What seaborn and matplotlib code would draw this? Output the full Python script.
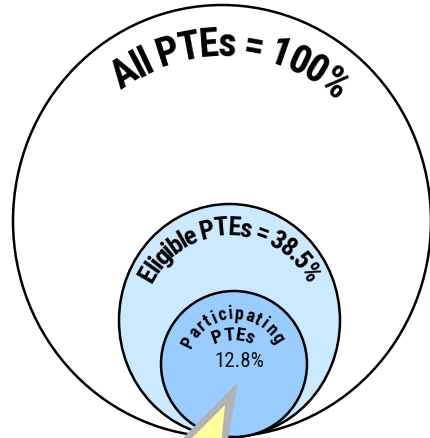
import numpy as np
import matplotlib
matplotlib.use("Agg")
import matplotlib.pyplot as plt
import seaborn as sns
from matplotlib.patches import Ellipse, Polygon
from matplotlib.font_manager import FontProperties, fontManager, findfont, get_font

# Share of PTEs in each nested group
groups = ["All PTEs", "Eligible PTEs", "Participating PTEs"]
shares = [100.0, 38.5, 12.8]
fills = ["#ffffff", "#cceaff", "#99ccff"]

sns.set_style("white")
weights = {}
for f in fontManager.ttflist:
    try:
        weights.setdefault(f.name, set()).add(int(f.weight))
    except (TypeError, ValueError):
        pass


def pick(candidates, need_bold=False):
    for name in candidates:
        if name in weights and (not need_bold or max(weights[name]) >= 700):
            return name
    return "DejaVu Sans"


title_font = pick(["Liberation Sans Narrow", "Arial Narrow", "Roboto Condensed",
                   "Encode Sans Condensed", "Fira Sans Condensed", "Barlow Condensed",
                   "Asap Condensed", "Liberation Sans"], need_bold=True)
value_font = pick(["Roboto Condensed", "Roboto", "Liberation Sans"])
plt.rcParams["font.family"] = [title_font, "DejaVu Sans"]

W, H, DPI = 431, 439, 100
fig = plt.figure(figsize=(W / DPI, H / DPI), dpi=DPI)
ax = fig.add_axes([0, 0, 1, 1])
ax.set_xlim(0, W)
ax.set_ylim(H, 0)
ax.axis("off")

# Nested rings, all touching at the bottom: (cx, cy, rx, ry) in pixels
rings = [(222, 222, 209, 216), (229.5, 321.5, 110.5, 116.5), (234, 365, 73, 73)]
for (cx, cy, rx, ry), fc in zip(rings, fills):
    ax.add_patch(Ellipse((cx, cy), 2 * rx, 2 * ry, facecolor=fc,
                         edgecolor="black", lw=1.8, zorder=1))

# Pointer wedge at the bottom
ax.add_patch(Polygon([(238, 383), (176, 446), (227, 446)], closed=True,
                     facecolor="#b3b3b3", edgecolor="none", zorder=3))
ax.add_patch(Polygon([(225, 406), (185, 446), (221, 446)], closed=True,
                     facecolor="#ffff99", edgecolor="none", zorder=4))


def advances(s, family, size, weight):
    """Horizontal advance of each character, in pixels."""
    prop = FontProperties(family=family, size=size, weight=weight)
    font = get_font(findfont(prop))
    font.set_size(size, DPI)
    return [font.load_char(ord(c)).linearHoriAdvance / 65536 for c in s]


def arc_text(s, cx, cy, r, center_deg, size, weight="bold", spacing=0.0, family=None):
    """Write s letter by letter along an arc whose centre is (cx, cy)."""
    family = family or title_font
    widths = advances(s, family, size, weight)
    total = sum(widths) + spacing * (len(s) - 1)
    theta0 = np.radians(center_deg) - total / (2 * r)
    pos = 0.0
    for c, w in zip(s, widths):
        th = theta0 + (pos + w / 2) / r
        x = cx + r * np.sin(th)
        y = cy - r * np.cos(th)
        ax.text(x, y, c, fontfamily=family, fontsize=size, fontweight=weight,
                color="black", rotation=-np.degrees(th), rotation_mode="anchor",
                ha="center", va="baseline", zorder=5)
        pos += w + spacing


arc_text(f"{groups[0]} = {shares[0]:.0f}%", 222, 222, 166, 3, 29, spacing=-2.0)
arc_text(f"{groups[1]} = {shares[1]:.1f}%", 229.5, 321.5, 86, 0, 19, spacing=-1.8)
first, second = groups[2].split()
arc_text(first, 234, 365, 46, -3, 13, spacing=1.2)
arc_text(second, 233, 380, 40, 0, 14, spacing=-0.5)
ax.text(239.5, 367, f"{shares[2]:.1f}%", fontfamily=value_font,
        fontsize=15, ha="center", va="baseline", color="#111111", zorder=5)

fig.savefig("out.png", dpi=DPI)
